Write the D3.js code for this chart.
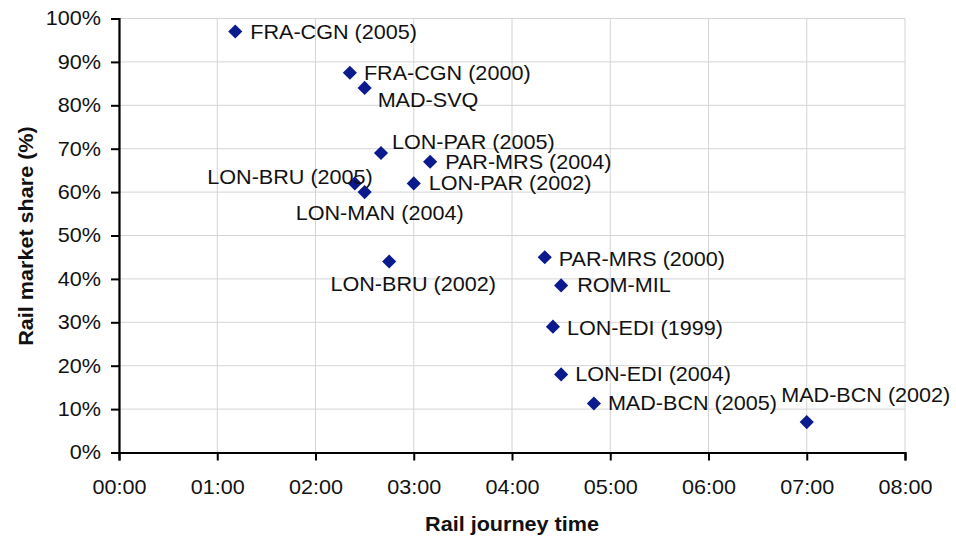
<!DOCTYPE html>
<html>
<head>
<meta charset="utf-8">
<title>Rail market share vs journey time</title>
<style>
  body { margin: 0; background: #fff; }
  svg { display: block; }
  text { font-family: "Liberation Sans", Arial, Helvetica, sans-serif; fill: #111; }
</style>
<script src="https://d3js.org/d3.v7.min.js"></script>
</head>
<body>
<svg id="chart" width="956" height="536"></svg>
<script>
// routes, rail journey time (hh:mm) and rail market share (%)
let routes = ["FRA-CGN (2005)", "FRA-CGN (2000)", "MAD-SVQ", "LON-PAR (2005)", "PAR-MRS (2004)",
              "LON-PAR (2002)", "LON-BRU (2005)", "LON-MAN (2004)", "LON-BRU (2002)", "PAR-MRS (2000)",
              "ROM-MIL", "LON-EDI (1999)", "LON-EDI (2004)", "MAD-BCN (2005)", "MAD-BCN (2002)"];
let journeyTimes = ["01:11", "02:21", "02:30", "02:40", "03:10",
                    "03:00", "02:24", "02:30", "02:45", "04:20",
                    "04:30", "04:25", "04:30", "04:50", "07:00"];
let marketShares = [97, 87.5, 84, 69, 67,
                    62, 62, 60, 44, 45,
                    38.5, 29, 18, 11.3, 7];
let hourTicks = [0, 1, 2, 3, 4, 5, 6, 7, 8];
let shareTicks = [0, 10, 20, 30, 40, 50, 60, 70, 80, 90, 100];

// label placement, by hand like the original: dx, dy, anchor
let labelPos = [[15, 7, "start"], [14, 7, "start"], [13, 19, "start"], [11, -4, "start"], [15, 7, "start"],
                [15, 7, "start"], [18, 1, "end"], [15, 28, "middle"], [24, 29, "middle"], [14, 9, "start"],
                [16, 7, "start"], [14, 8, "start"], [14, 7, "start"], [14, 7, "start"], [59, -20, "middle"]];

let toMinutes = s => { let p = s.split(":"); return +p[0] * 60 + +p[1]; };
let pad2 = n => (n < 10 ? "0" : "") + n;

let stretch = 1.08;  // the original font runs a little wider than Arial
let svg = d3.select("#chart");
let plotL = 119, plotR = 905, plotT = 18.5, plotB = 452.5;

let x = d3.scaleLinear().domain([0, 8 * 60]).range([plotL, plotR]);
let y = d3.scaleLinear().domain([0, 100]).range([plotB, plotT]);

// grid
svg.append("g").selectAll("line").data(hourTicks).enter().append("line")
    .attr("x1", d => x(d * 60)).attr("x2", d => x(d * 60))
    .attr("y1", plotT).attr("y2", plotB)
    .attr("stroke", "#d4d4d4").attr("stroke-width", 1);
svg.append("g").selectAll("line").data(shareTicks).enter().append("line")
    .attr("x1", plotL).attr("x2", plotR)
    .attr("y1", d => y(d)).attr("y2", d => y(d))
    .attr("stroke", "#d4d4d4").attr("stroke-width", 1);

// axes
let xAxis = svg.append("g").attr("transform", `translate(0,${plotB})`)
    .call(d3.axisBottom(x).tickValues(hourTicks.map(h => h * 60))
        .tickFormat(m => pad2(m / 60) + ":00").tickSizeOuter(0).tickSize(8).tickPadding(19));
let yAxis = svg.append("g").attr("transform", `translate(${plotL},0)`)
    .call(d3.axisLeft(y).tickValues(shareTicks)
        .tickFormat(d => d + "%").tickSizeOuter(0).tickSize(8).tickPadding(10));

[xAxis, yAxis].forEach(a => {
    a.select(".domain").attr("stroke", "#000").attr("stroke-width", 2.2);
    a.selectAll(".tick line").attr("stroke", "#000").attr("stroke-width", 2);
    a.selectAll(".tick text").attr("font-size", 20).attr("fill", "#111")
        .style("font-family", '"Liberation Sans", Arial, sans-serif');
});
xAxis.selectAll(".tick text").each(function() {
    let t = d3.select(this);
    let ty = +t.attr("y");
    t.attr("y", 0).attr("transform", `translate(0,${ty}) scale(${stretch},1)`);
});
yAxis.selectAll(".tick text").each(function() {
    let t = d3.select(this);
    let tx = +t.attr("x");
    t.attr("x", 0).attr("transform", `translate(${tx},0) scale(${stretch},1)`);
});

// axis titles
svg.append("text")
    .attr("transform", `translate(${(plotL + plotR) / 2},531) scale(${stretch},1)`)
    .attr("text-anchor", "middle").attr("font-size", 20).attr("font-weight", "bold")
    .text("Rail journey time");
svg.append("text")
    .attr("transform", `translate(33,236) rotate(-90) scale(${stretch},1)`)
    .attr("text-anchor", "middle").attr("font-size", 20).attr("font-weight", "bold")
    .text("Rail market share (%)");

// points
let data = routes.map((r, i) => ({ name: r, t: toMinutes(journeyTimes[i]), share: marketShares[i], lp: labelPos[i] }));

svg.append("g").selectAll("path").data(data).enter().append("path")
    .attr("d", d3.symbol().type(d3.symbolSquare).size(100))
    .attr("transform", d => `translate(${x(d.t)},${y(d.share)}) rotate(45)`)
    .attr("fill", "#0b1a8c");

svg.append("g").selectAll("text").data(data).enter().append("text")
    .attr("transform", d => `translate(${x(d.t) + d.lp[0]},${y(d.share) + d.lp[1]}) scale(${stretch},1)`)
    .attr("text-anchor", d => d.lp[2])
    .attr("font-size", 20)
    .text(d => d.name);
</script>
</body>
</html>
